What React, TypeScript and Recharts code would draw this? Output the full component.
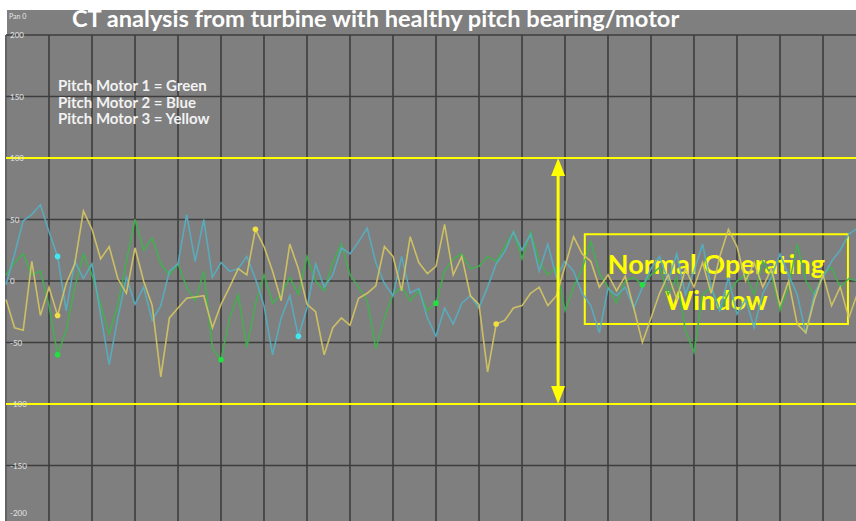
import React from "react";
import {
  LineChart,
  Line,
  XAxis,
  YAxis,
  CartesianGrid,
  ReferenceLine,
  ReferenceArea,
} from "recharts";

// readings, one per sample (100 samples across the window)
const green = [
  5, 15, 22, 5, 8, -20, -60, -40, -5, 22, 5, -19, -43, -20, 16, 50, 25, 35, 14, 5,
  14, -5, -16, 8, -55, -64, -30, -11, -54, -19, 5, -18, -11, 3, -11, 20, 0, -8, 15, 30,
  5, -5, -16, -55, -30, -11, -5, -16, -8, -24, -18, 8, 18, 22, 10, 12, 20, 16, 28, 40,
  18, 40, 16, 5, 11, -24, -5, 10, 32, 6, -5, -18, 0, 3, -3, 5, 11, -11, 3, -40,
  -58, -11, -5, -24, -10, 0, 5, -11, 16, 5, -24, -5, 30, 0, -11, 5, 11, -5, 2, 0,
];
const blue = [
  -3, 22, 49, 54, 62, 40, 20, -24, 16, 2, 14, -27, -68, -30, 3, -19, -5, -32, -20, 8,
  14, 54, 16, 50, 3, 15, 8, 10, 20, 2, -20, -60, -30, -12, -45, -22, 14, -5, 5, 27,
  22, 32, 43, 15, -2, -12, 20, -10, -6, -30, -45, -22, -35, -18, -12, -22, -5, 14, 24, 40,
  25, 38, 8, 30, 3, 16, 8, -10, -20, -42, -6, -12, -5, -22, -5, 10, 20, 0, 22, -11,
  8, 30, -5, -24, 3, -27, -15, -38, -10, 3, 22, 5, -11, -43, -10, 3, 16, 25, 38, 43,
];
const yellow = [
  -15, -38, -40, 16, -28, -5, -28, -2, 14, 57, 42, 18, 28, 2, -10, 27, 0, -20, -78, -30,
  -22, -14, -13, -12, -38, -19, -5, 10, 5, 42, 28, 8, -16, 30, 10, -19, -25, -60, -38, -30,
  -36, -14, -10, -4, 28, 20, -8, 36, 15, 6, 12, 46, 5, 20, -12, -19, -74, -35, -32, -22,
  -20, -10, -5, -20, -12, 12, 36, 22, 16, -5, 5, -8, 4, -22, -50, -30, -10, 5, -15, 10,
  -5, 15, -10, 20, 42, 28, 0, 15, -5, 10, -20, 0, -35, -42, -15, 5, -20, -5, -30, -10,
];

// samples that carry a highlighted point
const greenMarks = [6, 25, 50, 74];
const blueMarks = [6, 34];
const yellowMarks = [6, 29, 57];

const yTicks = [-200, -150, -100, -50, 0, 50, 100, 150, 200];
const xTicks = [0, 5, 10, 15, 20, 25, 30, 35, 40, 45, 50, 55, 60, 65, 70, 75, 80, 85, 90, 95, 100];
const limits = [100, -100];
const arrowAt = 64.2;
const windowBox = { x1: 67.3, x2: 97.9, y1: -35, y2: 38 };

const legendLines = ["Pitch Motor 1 = Green", "Pitch Motor 2 = Blue", "Pitch Motor 3 = Yellow"];

const data = green.map((g, i) => ({ x: i, green: g, blue: blue[i], yellow: yellow[i] }));

const font = "Lato, 'Open Sans', sans-serif";
const YELLOW = "#ffff00";

const markDot = (marks: number[], color: string) => (p: any) =>
  marks.includes(p.index) ? (
    <circle key={p.key} cx={p.cx} cy={p.cy} r={2.8} fill={color} stroke="none" />
  ) : (
    <g key={p.key} />
  );

// the bottom label sits just inside the visible frame
const YTick = (p: any) => (
  <text x={10} y={Math.min(p.y + 3, 516)} fontSize={8} fill="#e6e6e6" fontFamily={font} textAnchor="start">
    {p.payload.value}
  </text>
);

const Arrow = (p: any) => {
  const top = Math.min(p.y1, p.y2);
  const bot = Math.max(p.y1, p.y2);
  const x = p.x1;
  const head = 18;
  const hw = 7;
  return (
    <g>
      <line x1={x} y1={top + head - 1} x2={x} y2={bot - head + 1} stroke={YELLOW} strokeWidth={3} />
      <polygon points={`${x},${top} ${x - hw},${top + head} ${x + hw},${top + head}`} fill={YELLOW} />
      <polygon points={`${x},${bot} ${x - hw},${bot - head} ${x + hw},${bot - head}`} fill={YELLOW} />
    </g>
  );
};

const WindowLabel = (p: any) => {
  const vb = p.viewBox;
  const cx = vb.x + vb.width / 2;
  const cy = vb.y + vb.height / 2;
  return (
    <g>
      <text x={cx} y={cy - 16} textAnchor="middle" dominantBaseline="central" fill={YELLOW}
        fontSize={27} fontWeight={700} fontFamily={font}>
        Normal Operating
      </text>
      <text x={cx} y={cy + 20} textAnchor="middle" dominantBaseline="central" fill={YELLOW}
        fontSize={27} fontWeight={700} fontFamily={font}>
        Window
      </text>
    </g>
  );
};

export default function App() {
  return (
    <div style={{ position: "fixed", left: 0, top: 0, width: 856, height: 521, overflow: "hidden", background: "#fff" }}>
      <div style={{ position: "absolute", left: 7, top: 10, right: 0, bottom: 0, background: "#7f7f7f" }} />
      <div style={{ position: "absolute", left: 0, top: 0 }}>
        <LineChart width={870} height={540} data={data} margin={{ top: 35, right: 4, bottom: 13, left: 6 }}>
          <CartesianGrid stroke="#3d3d3d" strokeWidth={1.6} />
          <XAxis type="number" dataKey="x" domain={[0, 100]} ticks={xTicks} hide />
          <YAxis type="number" domain={[-200, 200]} ticks={yTicks} mirror axisLine={false} tickLine={false}
            tick={YTick} interval={0} />
          <Line dataKey="green" stroke="#3fb44c" strokeWidth={1.6} strokeOpacity={0.9}
            dot={markDot(greenMarks, "#22e040")} activeDot={false} isAnimationActive={false} />
          <Line dataKey="blue" stroke="#55afc2" strokeWidth={1.6} strokeOpacity={0.9}
            dot={markDot(blueMarks, "#40e8f0")} activeDot={false} isAnimationActive={false} />
          <Line dataKey="yellow" stroke="#d6c660" strokeWidth={1.6} strokeOpacity={0.9}
            dot={markDot(yellowMarks, "#f0e040")} activeDot={false} isAnimationActive={false} />
          {limits.map((v) => (
            <ReferenceLine key={v} y={v} stroke={YELLOW} strokeWidth={2} />
          ))}
          <ReferenceLine segment={[{ x: arrowAt, y: -100 }, { x: arrowAt, y: 100 }]} shape={Arrow} />
          <ReferenceArea x1={windowBox.x1} x2={windowBox.x2} y1={windowBox.y1} y2={windowBox.y2}
            fill="none" fillOpacity={0} stroke={YELLOW} strokeWidth={2} label={WindowLabel} />
        </LineChart>
      </div>
      <div style={{ position: "absolute", left: 9, top: 12, fontSize: 7, color: "#e6e6e6", fontFamily: font }}>Pan 0</div>
      <div style={{ position: "absolute", left: 72, top: 4, fontSize: 23.6, fontWeight: 700, color: "#fff",
        fontFamily: font, whiteSpace: "nowrap", lineHeight: "28px" }}>
        CT analysis from turbine with healthy pitch bearing/motor
      </div>
      <div style={{ position: "absolute", left: 58, top: 77, fontSize: 15, fontWeight: 700, color: "#f2f2f2",
        fontFamily: font, lineHeight: "16.5px", whiteSpace: "nowrap" }}>
        {legendLines.map((t) => (
          <div key={t}>{t}</div>
        ))}
      </div>
    </div>
  );
}
